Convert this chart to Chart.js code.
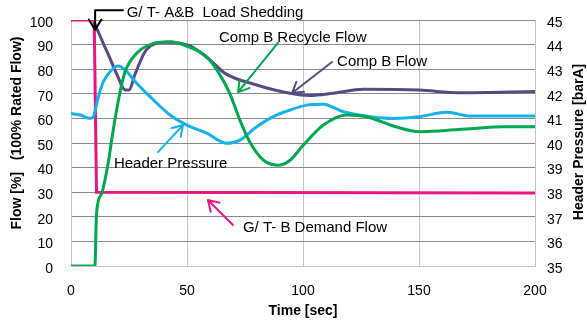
<!DOCTYPE html>
<html>
<head>
<meta charset="utf-8">
<script src="https://cdn.jsdelivr.net/npm/chart.js@4/dist/chart.umd.min.js"></script>
<style>
  html, body { margin: 0; padding: 0; background: #fff; }
  #wrap { width: 587px; height: 322px; }
</style>
</head>
<body>
<div id="wrap"><canvas id="trip-chart"></canvas></div>
<script>
// time axis ticks / ranges
var timeTicks = [0, 50, 100, 150, 200];

// G/T-B demand flow [%]
var demandTime = [0, 10, 11, 200];
var demandFlow = [100, 100, 30, 29.7];

// Comp B recycle flow [%]
var recycleTime = [0, 10.3, 11, 13.2, 16, 18.2, 21, 23.3, 28.3, 35.5, 42.7, 51, 58.5, 64, 68.5, 72.8, 77, 83, 89.4, 94.4, 100, 108.8, 118.8, 127.4, 140, 150, 160, 175, 186, 200];
var recycleFlow = [0, 0, 21.4, 29.5, 41.7, 55.3, 70, 79, 86.5, 90.5, 91.2, 89, 85, 78, 70, 59.3, 50.5, 43, 41, 43, 49, 57.3, 61.4, 60.7, 56.6, 54.6, 55, 56, 56.6, 56.6];

// Comp B flow [%]
var compTime = [10, 13.9, 16.8, 19.7, 23.5, 25, 27.6, 32.6, 41.2, 51.3, 60, 66.4, 80, 94.4, 103, 113, 126, 150, 168, 200];
var compFlow = [99, 90.5, 84.4, 78, 71.5, 71.5, 78, 88, 91, 89.5, 83.7, 78.3, 73.6, 70.2, 69.3, 70.2, 71.8, 71.5, 70.4, 70.9];

// Header pressure [barA]
var pressTime = [0, 4, 8.2, 9.6, 11.8, 14, 17.5, 20.4, 23.3, 28.3, 35.5, 42.7, 50, 58.5, 67, 72.8, 80, 87.2, 94.4, 101.6, 108.7, 117.4, 129, 139, 150, 162, 172, 182, 200];
var pressValue = [41.2, 41.14, 41.0, 41.07, 41.88, 42.5, 42.97, 43.13, 42.97, 42.43, 41.75, 41.14, 40.73, 40.4, 39.99, 40.12, 40.66, 41.07, 41.34, 41.54, 41.58, 41.27, 41.07, 41.0, 41.07, 41.25, 41.1, 41.1, 41.1];

function pairs(xs, ys) {
    return xs.map(function (x, i) { return { x: x, y: ys[i] }; });
}

// callouts, placed in data units (time, flow %)
var notes = [
    { text: 'G/ T- A&B  Load Shedding', x: 24, y: 102.7, color: '#000' },
    { text: 'Comp B Recycle Flow', x: 63.8, y: 92.7, color: '#000' },
    { text: 'Comp B Flow', x: 114.7, y: 82.9, color: '#000' },
    { text: 'Header Pressure', x: 18.5, y: 41.5, color: '#000' },
    { text: 'G/ T- B Demand Flow', x: 74.1, y: 15.4, color: '#000' }
];
var arrows = [
    { pts: [[22.4, 104], [10.4, 104], [10.4, 96]], color: '#000' },
    { pts: [[89.2, 90.7], [72, 70.7]], color: '#00a94f' },
    { pts: [[112.5, 82.9], [95.3, 70.3]], color: '#574b80' },
    { pts: [[37.5, 46.3], [48.3, 57.3]], color: '#15b1ec' },
    { pts: [[69.8, 16.7], [59, 26.8]], color: '#ea1585' }
];

var fontFamily = '"Liberation Sans", Arial, Helvetica, sans-serif';
Chart.defaults.font.family = fontFamily;
Chart.defaults.color = '#000';

var calloutPlugin = {
    id: 'callouts',
    afterDatasetsDraw: function (chart) {
        var ctx = chart.ctx;
        var xs = chart.scales.x, ys = chart.scales.y;
        ctx.save();
        // arrows
        arrows.forEach(function (a) {
            var p = a.pts.map(function (q) { return [xs.getPixelForValue(q[0]), ys.getPixelForValue(q[1])]; });
            ctx.strokeStyle = a.color;
            ctx.lineWidth = 2;
            ctx.lineCap = 'round';
            ctx.lineJoin = 'round';
            ctx.beginPath();
            ctx.moveTo(p[0][0], p[0][1]);
            for (var i = 1; i < p.length; i++) ctx.lineTo(p[i][0], p[i][1]);
            var end = p[p.length - 1], prev = p[p.length - 2];
            var ang = Math.atan2(end[1] - prev[1], end[0] - prev[0]);
            var len = 12, spread = 0.55;
            ctx.moveTo(end[0] - len * Math.cos(ang - spread), end[1] - len * Math.sin(ang - spread));
            ctx.lineTo(end[0], end[1]);
            ctx.lineTo(end[0] - len * Math.cos(ang + spread), end[1] - len * Math.sin(ang + spread));
            ctx.stroke();
        });
        // labels
        ctx.font = '15px ' + fontFamily;
        ctx.textBaseline = 'middle';
        ctx.textAlign = 'left';
        notes.forEach(function (n) {
            ctx.fillStyle = n.color;
            ctx.fillText(n.text, xs.getPixelForValue(n.x), ys.getPixelForValue(n.y));
        });
        // axis titles (both read bottom to top)
        ctx.font = 'bold 14px ' + fontFamily;
        ctx.textAlign = 'center';
        ctx.fillStyle = '#000';
        ctx.translate(17, 133);
        ctx.rotate(-Math.PI / 2);
        ctx.fillText('Flow [%]   (100% Rated Flow)', 0, 0);
        ctx.restore();
        ctx.save();
        ctx.font = 'bold 14px ' + fontFamily;
        ctx.textAlign = 'center';
        ctx.textBaseline = 'middle';
        ctx.fillStyle = '#000';
        ctx.translate(579, 142);
        ctx.rotate(-Math.PI / 2);
        ctx.fillText('Header Pressure [barA]', 0, 0);
        ctx.restore();
    }
};

function fixY(w) {
    return function (s) {
        s.width = w;
        s.paddingTop = 0;
        s.paddingBottom = 0;
    };
}

var ctx1 = document.getElementById('trip-chart').getContext('2d');
var tripChart = new Chart(ctx1, {
    type: 'line',
    data: {
        datasets: [{
            label: 'Comp B Recycle Flow',
            data: pairs(recycleTime, recycleFlow),
            borderColor: '#00a94f',
            yAxisID: 'y',
            cubicInterpolationMode: 'monotone'
        }, {
            label: 'Header Pressure',
            data: pairs(pressTime, pressValue),
            borderColor: '#15b1ec',
            yAxisID: 'y1',
            cubicInterpolationMode: 'monotone'
        }, {
            label: 'Comp B Flow',
            data: pairs(compTime, compFlow),
            borderColor: '#574b80',
            yAxisID: 'y',
            cubicInterpolationMode: 'monotone'
        }, {
            label: 'G/T-B Demand Flow',
            data: pairs(demandTime, demandFlow),
            borderColor: '#ea1585',
            yAxisID: 'y',
            tension: 0
        }]
    },
    options: {
        responsive: true,
        maintainAspectRatio: false,
        animation: false,
        events: [],
        layout: { padding: { top: 20, left: 0, right: 0, bottom: 0 } },
        elements: {
            point: { radius: 0 },
            line: { borderWidth: 3, fill: false }
        },
        plugins: {
            legend: { display: false },
            tooltip: { enabled: false }
        },
        scales: {
            x: {
                type: 'linear',
                min: 0,
                max: 200,
                afterBuildTicks: function (s) { s.ticks = timeTicks.map(function (v) { return { value: v }; }); },
                ticks: { padding: 17, font: { size: 14 }, color: '#000' },
                grid: { color: '#c4c4c4', drawTicks: false },
                border: { color: '#c4c4c4' },
                title: {
                    display: true,
                    text: 'Time [sec]',
                    color: '#000',
                    font: { size: 14, weight: 'bold' },
                    padding: { top: 0, bottom: 2 }
                },
                afterFit: function (s) { s.height = 56; }
            },
            y: {
                position: 'left',
                min: 0,
                max: 100,
                ticks: { stepSize: 10, padding: 18, labelOffset: 3, font: { size: 14 }, color: '#000' },
                grid: {
                    drawTicks: false,
                    color: function (c) { return c.tick && c.tick.value === 0 ? '#c4c4c4' : '#8a8a8a'; }
                },
                border: { color: '#c4c4c4' },
                afterFit: fixY(71)
            },
            y1: {
                position: 'right',
                min: 35,
                max: 45,
                ticks: { stepSize: 1, padding: 12, labelOffset: 3, font: { size: 14 }, color: '#000' },
                grid: { display: false, drawTicks: false },
                border: { display: false },
                afterFit: fixY(52)
            }
        }
    },
    plugins: [calloutPlugin]
});
</script>
</body>
</html>
